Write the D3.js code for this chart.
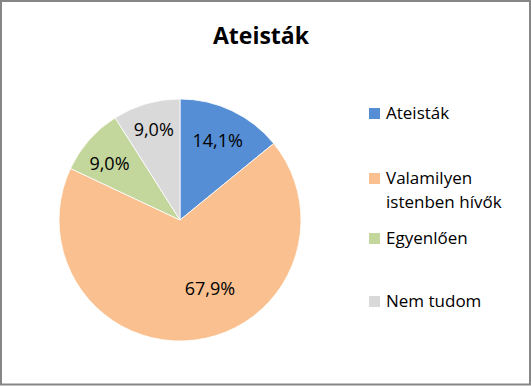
<!DOCTYPE html>
<html>
<head>
<meta charset="utf-8">
<script src="https://cdn.jsdelivr.net/npm/d3@7"></script>
<style>
  html, body { margin: 0; padding: 0; background: #fff; }
  svg { display: block; }
  text { font-family: "Open Sans", Lato, sans-serif; }
</style>
</head>
<body>
<svg id="chart" width="531" height="386"></svg>
<script>
const title = "Ateisták";
const categories = ["Ateisták", "Valamilyen istenben hívők", "Egyenlően", "Nem tudom"];
const legendLines = [["Ateisták"], ["Valamilyen", "istenben hívők"], ["Egyenlően"], ["Nem tudom"]];
const values = [14.1, 67.9, 9.0, 9.0];
const colors = ["#558ED5", "#FAC090", "#C3D69B", "#D9D9D9"];

const W = 531, H = 386;
const svg = d3.select("#chart");

svg.append("rect").attr("x", 1).attr("y", 1).attr("width", W - 2).attr("height", H - 2.5)
  .attr("fill", "#fff").attr("stroke", "#868686").attr("stroke-width", 2);

svg.append("text").attr("x", 261).attr("y", 44).attr("text-anchor", "middle")
  .attr("font-size", 23).attr("font-weight", "bold").attr("fill", "#000").text(title);

const cx = 180, cy = 220, R = 121;
const pie = d3.pie().sort(null).value(d => d);
const arcs = pie(values);
const arc = d3.arc().innerRadius(0).outerRadius(R);

const g = svg.append("g").attr("transform", `translate(${cx},${cy})`);
g.selectAll("path").data(arcs).join("path")
  .attr("d", arc)
  .attr("fill", (d, i) => colors[i])
  .attr("stroke", "#fff").attr("stroke-width", 0.8);

// label placement (Excel "best fit" style): radius factor and angle shift per slice
const labelR = [0.725, 0.618, 0.747, 0.778];
const labelShift = [0, -0.29, -0.047, 0];
const fmt = v => d3.format(".1f")(v).replace(".", ",") + "%";
g.selectAll("text.lbl").data(arcs).join("text")
  .attr("class", "lbl")
  .attr("transform", (d, i) => {
    const a = (d.startAngle + d.endAngle) / 2 + labelShift[i];
    const r = R * labelR[i];
    return `translate(${r * Math.sin(a)},${-r * Math.cos(a) + 6.5})`;
  })
  .attr("text-anchor", "middle")
  .attr("font-size", 18)
  .attr("fill", "#000")
  .text(d => fmt(d.data));

// legend
const legendY = d3.scalePoint().domain(categories).range([119, 307]);
const lg = svg.append("g");
categories.forEach((c, i) => {
  let by = legendY(c);
  if (i === 1) by = 184;
  if (i === 2) by = 244;
  lg.append("rect").attr("x", 369).attr("y", by - 11).attr("width", 11).attr("height", 11)
    .attr("fill", colors[i]);
  const t = lg.append("text").attr("x", 386).attr("y", by).attr("font-size", 17).attr("fill", "#000");
  legendLines[i].forEach((ln, j) => {
    t.append("tspan").attr("x", 386).attr("dy", j === 0 ? 0 : 24).text(ln);
  });
});
</script>
</body>
</html>
